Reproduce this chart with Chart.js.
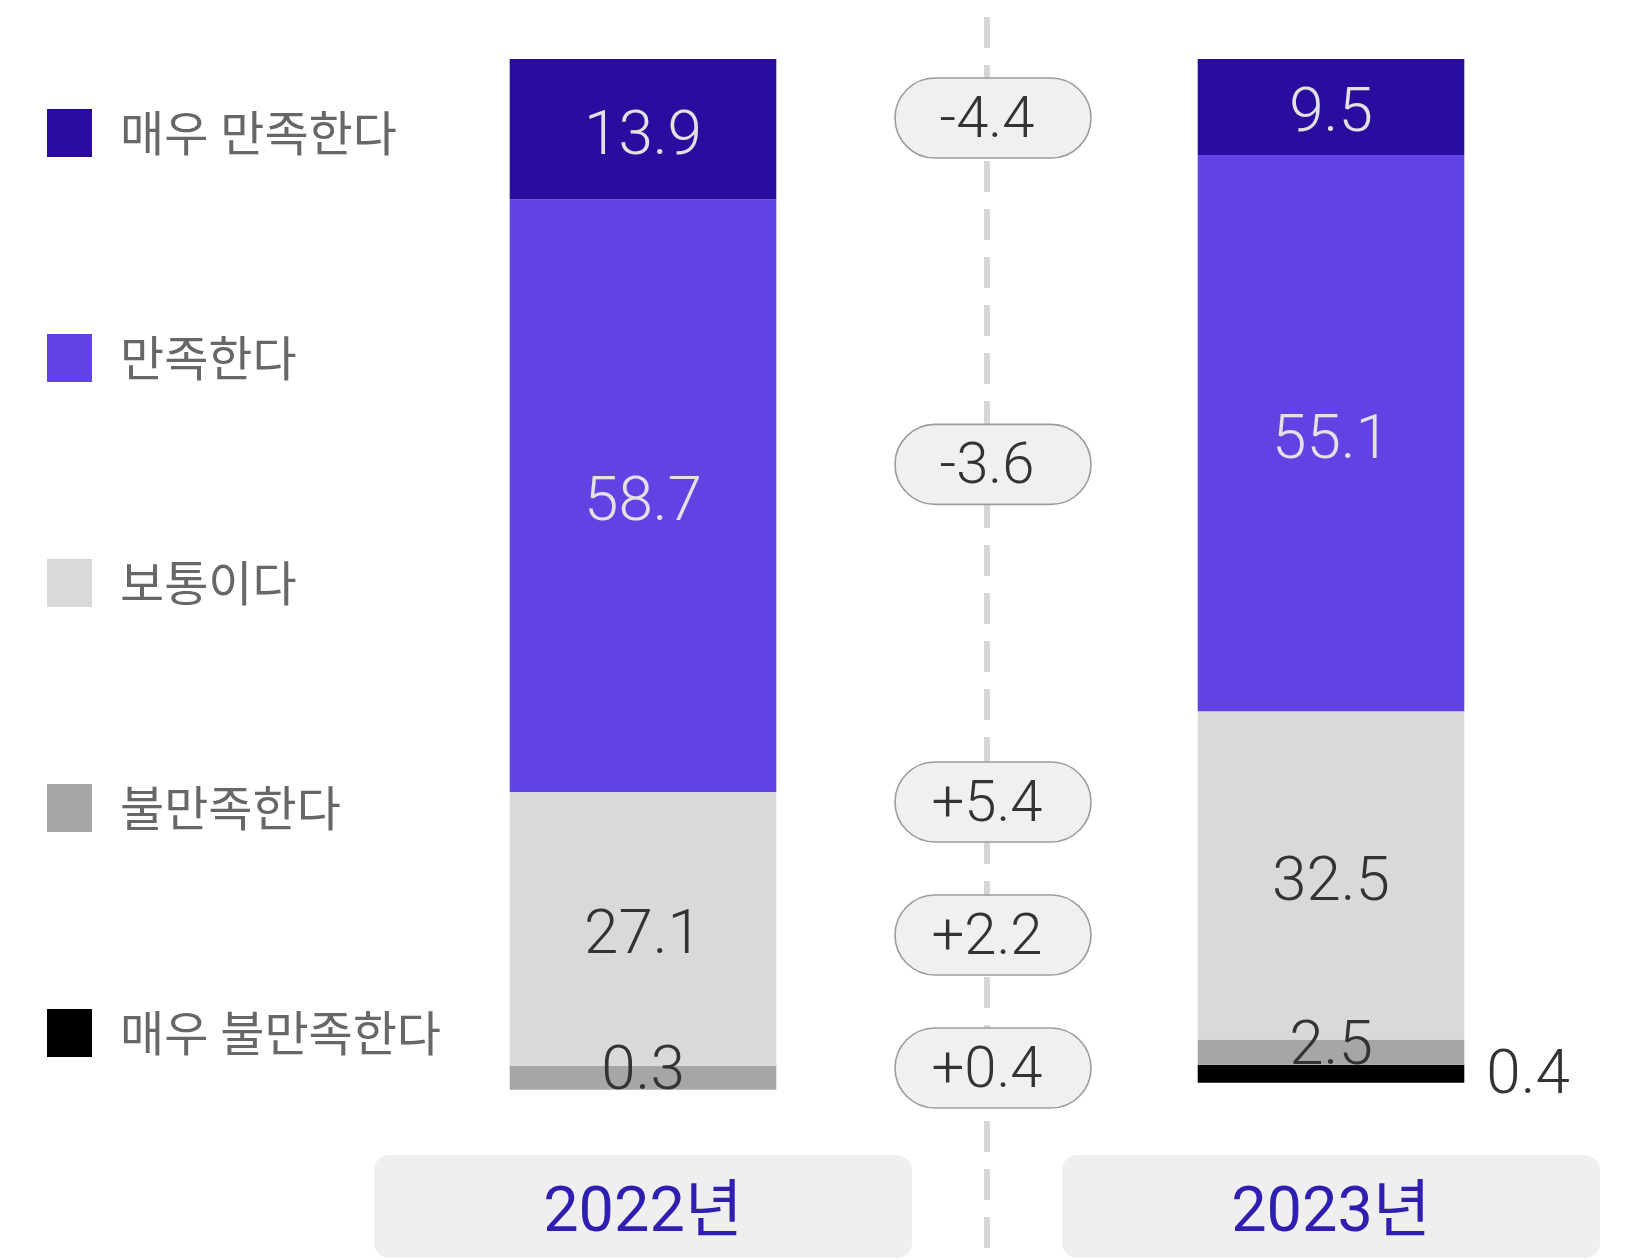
<!DOCTYPE html>
<html>
<head>
<meta charset="utf-8">
<script src="https://cdn.jsdelivr.net/npm/chart.js@4.4.1/dist/chart.umd.min.js"></script>
<style>
  body { margin: 0; background: #fff; }
  #wrap { width: 1634px; height: 1260px; position: relative; }
</style>
</head>
<body>
<div id="wrap"><canvas id="satisfaction"></canvas></div>
<script>
/****************************** data ********************************/
const years = ['2022년', '2023년'];
const answers = ['매우 만족한다', '만족한다', '보통이다', '불만족한다', '매우 불만족한다'];
const values2022 = [13.9, 58.7, 27.1, 0.3, null];
const values2023 = [9.5, 55.1, 32.5, 2.5, 0.4];
const changes = [-4.4, -3.6, 5.4, 2.2, 0.4];

const barColors = ['#2a0c9e', '#6342e3', '#d9d9d9', '#a6a6a6', '#000000'];
const FONT = "Roboto, 'Noto Sans CJK KR', sans-serif";

// middle (empty) category holds the change pills and dashed divider
const labels = [years[0], '', years[1]];

const datasets = answers.map((name, i) => ({
    label: name,
    data: [values2022[i], null, values2023[i]],
    backgroundColor: barColors[i],
    minBarLength: i === 3 ? 24 : (i === 4 ? 18 : 0), // keep tiny shares visible
    categoryPercentage: 1,
    barPercentage: 0.775
}));

function segCenter(el) {
    const p = el.getProps(['x', 'y', 'base', 'width'], true);
    return { x: p.x, y: (p.y + p.base) / 2, right: p.x + p.width / 2 };
}

/****************************** legend + year boxes + divider ********************************/
const decorPlugin = {
    id: 'decor',
    beforeDatasetsDraw(chart) {
        const { ctx, scales: { x } } = chart;
        const midX = x.getPixelForValue(1);
        ctx.save();
        ctx.strokeStyle = '#d6d6d6';
        ctx.lineWidth = 6;
        ctx.setLineDash([31, 17]);
        ctx.beginPath();
        ctx.moveTo(midX, 17);
        ctx.lineTo(midX, 1248);
        ctx.stroke();
        ctx.restore();
    },
    afterDraw(chart) {
        const { ctx, chartArea, scales: { x } } = chart;
        ctx.save();
        // legend
        ctx.textBaseline = 'middle';
        ctx.textAlign = 'left';
        ctx.font = '400 48px ' + FONT;
        answers.forEach((name, i) => {
            const cy = 133 + i * 225;
            ctx.fillStyle = barColors[i];
            ctx.fillRect(47, cy - 24, 45, 48);
            ctx.fillStyle = '#676767';
            ctx.fillText(name, 120, cy + 6);
        });
        // year boxes
        [0, 2].forEach((idx, k) => {
            const cx = x.getPixelForValue(idx);
            const top = chartArea.bottom + 61;
            ctx.fillStyle = '#efefef';
            ctx.beginPath();
            ctx.roundRect(cx - 269, top, 538, 103, 15);
            ctx.fill();
            ctx.fillStyle = '#2e1fb0';
            ctx.font = '400 63px ' + FONT;
            ctx.textAlign = 'center';
            ctx.fillText(years[k], cx, top + 60);
        });
        ctx.restore();
    }
};

/****************************** value labels + change pills ********************************/
const labelPlugin = {
    id: 'valueLabels',
    afterDatasetsDraw(chart) {
        const { ctx, chartArea, scales: { x } } = chart;
        ctx.save();
        ctx.textBaseline = 'middle';
        ctx.font = '300 62px ' + FONT;

        const centers = [];
        chart.data.datasets.forEach((ds, i) => {
            const meta = chart.getDatasetMeta(i);
            const ys = [];
            ds.data.forEach((v, j) => {
                if (v === null) return;
                const c = segCenter(meta.data[j]);
                ys.push(c.y);
                ctx.fillStyle = i < 2 ? '#e2e2e2' : '#333';
                if (i === 4) {
                    ctx.textAlign = 'left';
                    ctx.fillText(v.toFixed(1), c.right + 22, c.y + 4);
                } else {
                    ctx.textAlign = 'center';
                    ctx.fillText(v.toFixed(1), c.x, i === 3 ? c.y - 4 : c.y + 9);
                }
            });
            centers.push(ys.reduce((a, b) => a + b, 0) / ys.length);
        });

        // pills sit between the two bars, pushed apart from the bottom up
        const gap = 133;
        let limit = chartArea.bottom - 26;
        for (let i = centers.length - 1; i >= 0; i--) {
            centers[i] = Math.min(centers[i], limit);
            limit = centers[i] - gap;
        }

        const midX = x.getPixelForValue(1);
        ctx.font = '300 58px ' + FONT;
        ctx.textAlign = 'center';
        changes.forEach((d, i) => {
            const cy = centers[i];
            ctx.beginPath();
            ctx.roundRect(midX + 6 - 98, cy - 40, 196, 80, 40);
            ctx.fillStyle = '#f0f0f0';
            ctx.fill();
            ctx.lineWidth = 1.6;
            ctx.strokeStyle = '#9c9c9c';
            ctx.stroke();
            ctx.fillStyle = '#333';
            ctx.fillText((d > 0 ? '+' : '') + d.toFixed(1), midX, cy + 4);
        });
        ctx.restore();
    }
};

new Chart(document.getElementById('satisfaction'), {
    type: 'bar',
    data: { labels: labels, datasets: datasets },
    options: {
        responsive: true,
        maintainAspectRatio: false,
        animation: false,
        layout: { padding: { left: 471, right: 131, top: 59, bottom: 166 } },
        plugins: {
            legend: { display: false },
            tooltip: { enabled: false }
        },
        scales: {
            x: { stacked: true, display: false },
            y: { stacked: true, display: false, reverse: true, min: 0, max: 102.5 }
        }
    },
    plugins: [decorPlugin, labelPlugin]
});
</script>
</body>
</html>
